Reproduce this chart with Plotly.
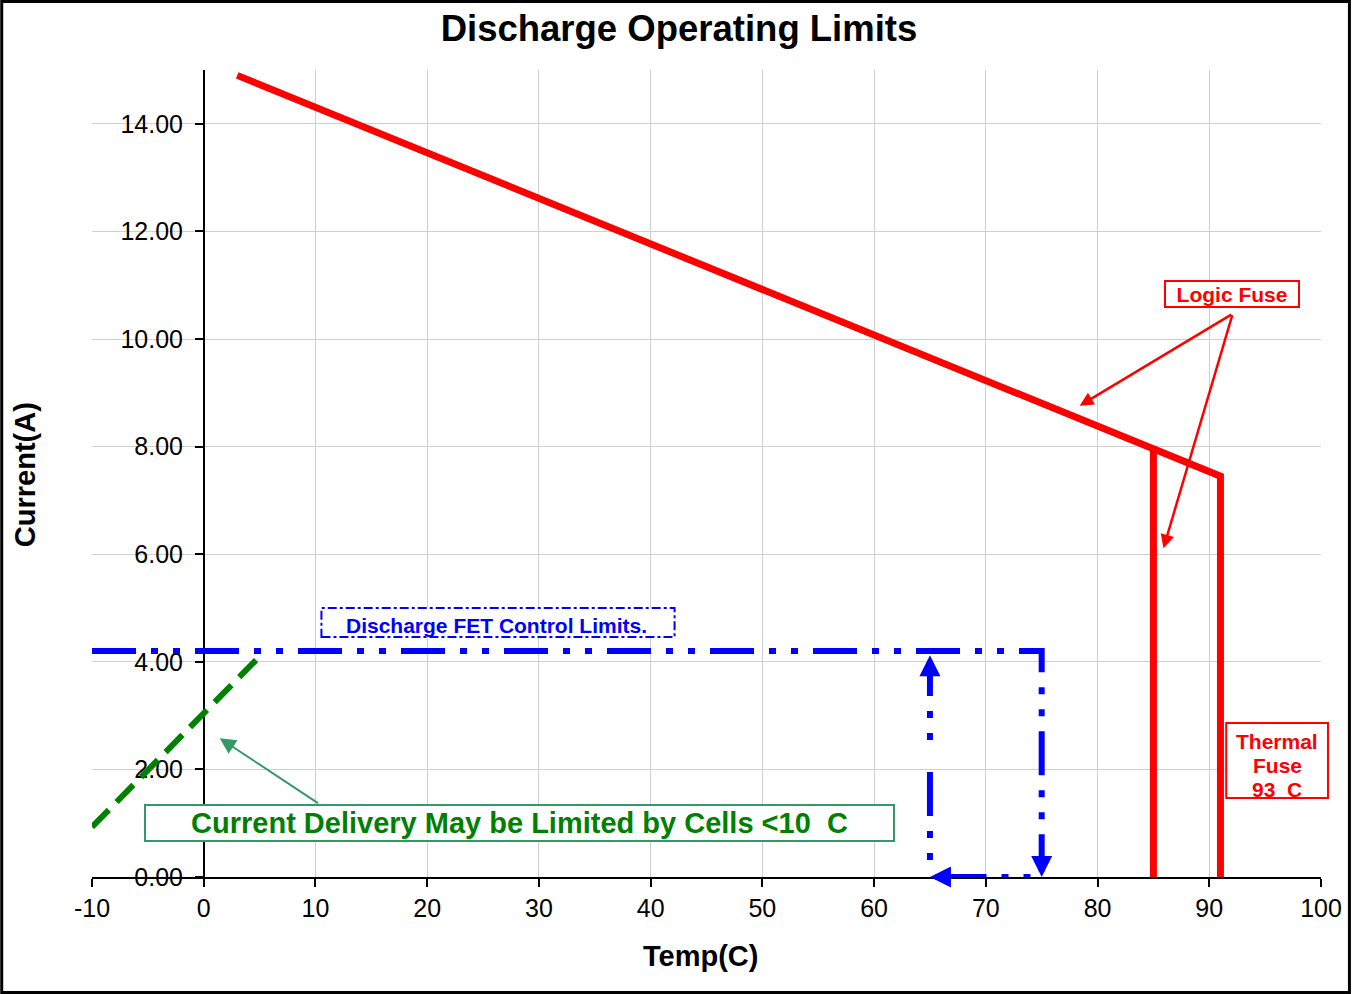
import plotly.graph_objects as go

# ---------------- data ----------------
logic_fuse_x = [3, 91, 91]
logic_fuse_y = [14.9, 7.45, 0]
logic_cut_x = [85, 85]
logic_cut_y = [7.95, 0]

fet_limit_x = [-10, 75, 75]
fet_limit_y = [4.2, 4.2, 0.3]
fet_return_x = [74, 66]
fet_return_y = [0, 0]
fet_rise_x = [65, 65]
fet_rise_y = [0, 3.84]

cold_x = [-10, 5]
cold_y = [0.93, 4.1]

x_ticks = list(range(-10, 101, 10))
y_ticks = [0, 2, 4, 6, 8, 10, 12, 14]

# ---------------- layout geometry ----------------
W, H = 1354, 994
ML, MR, MT, MB = 92, 30, 70, 117
PW, PH = W - ML - MR, H - MT - MB
FONT = "Liberation Sans, Arial, sans-serif"

def px_x(p):
    return (p - ML) / PW

def px_y(p):
    return (H - MB - p) / PH

RED = "#FF0000"
BLUE = "#0000FF"
GREEN = "#008000"
SEA = "#339966"
FET_DASH = "44px,15px,7px,15px,7px,15px"

fig = go.Figure()

fig.add_trace(go.Scatter(x=logic_fuse_x, y=logic_fuse_y, mode="lines",
                         line=dict(color=RED, width=7), hoverinfo="skip"))
fig.add_trace(go.Scatter(x=logic_cut_x, y=logic_cut_y, mode="lines",
                         line=dict(color=RED, width=7), hoverinfo="skip"))
fig.add_trace(go.Scatter(x=fet_limit_x, y=fet_limit_y, mode="lines",
                         line=dict(color=BLUE, width=6, dash=FET_DASH), hoverinfo="skip"))
fig.add_trace(go.Scatter(x=fet_return_x, y=fet_return_y, mode="lines",
                         line=dict(color=BLUE, width=6, dash="7px,15px,7px,15px,44px,15px"),
                         hoverinfo="skip", cliponaxis=False))
fig.add_trace(go.Scatter(x=fet_rise_x, y=fet_rise_y, mode="lines",
                         line=dict(color=BLUE, width=6, dash="0px,17px,7px,15px,7px,15px,44px,15px"),
                         hoverinfo="skip"))
fig.add_trace(go.Scatter(x=cold_x, y=cold_y, mode="lines",
                         line=dict(color=GREEN, width=6, dash="24px,11px"), hoverinfo="skip"))

annotations = []

# blue arrowheads
for tip_x, tip_y, ax, ay in [(75, 0, 0, -16), (65, 0, 16, 0), (65, 4.12, 0, 16)]:
    annotations.append(dict(x=tip_x, y=tip_y, xref="x", yref="y", ax=ax, ay=ay, showarrow=True,
                            arrowhead=2, arrowsize=0.7, arrowwidth=6, arrowcolor=BLUE, text=""))

# logic fuse arrows
annotations.append(dict(x=78.4, y=8.76, xref="x", yref="y", ax=92.1, ay=10.47,
                        axref="x", ayref="y", showarrow=True, arrowhead=2, arrowsize=1.1,
                        arrowwidth=2.5, arrowcolor=RED, text=""))
annotations.append(dict(x=85.9, y=6.11, xref="x", yref="y", ax=92.1, ay=10.47,
                        axref="x", ayref="y", showarrow=True, arrowhead=2, arrowsize=1.1,
                        arrowwidth=2.5, arrowcolor=RED, text=""))
# green arrow
annotations.append(dict(x=1.43, y=2.58, xref="x", yref="y", ax=10.36, ay=1.355,
                        axref="x", ayref="y", showarrow=True, arrowhead=2, arrowsize=1.6,
                        arrowwidth=2, arrowcolor=SEA, text=""))

def label(px, py, text, size, color, **kw):
    d = dict(x=px_x(px), y=px_y(py), xref="paper", yref="paper", xanchor="center",
             yanchor="middle", text=text, showarrow=False,
             font=dict(family=FONT, size=size, color=color))
    d.update(kw)
    return d

annotations.append(label(1235, 294, "<b>Logic Fuse</b>", 21, RED,
                         bgcolor="white", bordercolor=RED, borderwidth=2, borderpad=0,
                         width=132, height=24))
for py, txt in [(741, "Thermal"), (765, "Fuse"), (789, "93  C")]:
    annotations.append(label(1280, py, "<b>" + txt + "</b>", 21, RED))
annotations.append(label(520.5, 823, "<b>Current Delivery May be Limited by Cells &lt;10  C</b>",
                         29, GREEN, bgcolor="white", bordercolor=SEA, borderwidth=2,
                         borderpad=0, width=747, height=34))
annotations.append(label(497, 625, "<b>Discharge FET Control Limits.</b>", 21, BLUE))

# axis titles
annotations.append(label(702, 956, "<b>Temp(C)</b>", 29, "black"))
annotations.append(label(25, 475, "<b>Current(A)</b>", 29, "black", textangle=-90))

shapes = [
    dict(type="rect", xref="paper", yref="paper",
         x0=px_x(322), x1=px_x(676), y0=px_y(637), y1=px_y(608),
         line=dict(color=BLUE, width=2, dash="dashdot"), fillcolor="white"),
    dict(type="rect", xref="paper", yref="paper",
         x0=px_x(1229), x1=px_x(1331), y0=px_y(798), y1=px_y(723),
         line=dict(color=RED, width=2), fillcolor="white"),
    dict(type="rect", xref="paper", yref="paper",
         x0=px_x(1.5), x1=px_x(W - 1.5), y0=px_y(H - 1.5), y1=px_y(1.5),
         line=dict(color="black", width=3), fillcolor="rgba(0,0,0,0)", layer="above"),
]

fig.update_layout(
    width=W, height=H, autosize=False,
    margin=dict(l=ML, r=MR, t=MT, b=MB, pad=0),
    paper_bgcolor="white", plot_bgcolor="white",
    showlegend=False,
    font=dict(family=FONT, color="black"),
    title=dict(text="<b>Discharge Operating Limits</b>", x=679 / W, xref="container",
               xanchor="center", y=1 - 28 / H, yref="container", yanchor="middle",
               font=dict(family=FONT, size=36.5, color="black")),
    xaxis=dict(range=[-10, 100], tickvals=x_ticks, ticktext=[str(v) for v in x_ticks],
               showgrid=True, gridcolor="#CFCFCF", gridwidth=1,
               showline=True, linecolor="black", linewidth=1.5,
               ticks="outside", ticklen=8, tickcolor="black", tickwidth=1.5,
               zeroline=False, tickfont=dict(family=FONT, size=25, color="black"),
               layer="below traces"),
    yaxis=dict(range=[0, 15], tickvals=y_ticks, tickformat=".2f",
               anchor="free", position=10 / 110,
               showgrid=True, gridcolor="#CFCFCF", gridwidth=1,
               showline=True, linecolor="black", linewidth=1.5,
               ticks="outside", ticklen=8, tickcolor="black", tickwidth=1.5,
               zeroline=False, tickfont=dict(family=FONT, size=25, color="black"),
               ticklabelstandoff=7, layer="below traces"),
    annotations=annotations,
    shapes=shapes,
)

fig.write_html("out.html",
               config={"displayModeBar": False, "responsive": False},
               post_script="document.body.style.margin='0';document.body.style.overflow='hidden';")
